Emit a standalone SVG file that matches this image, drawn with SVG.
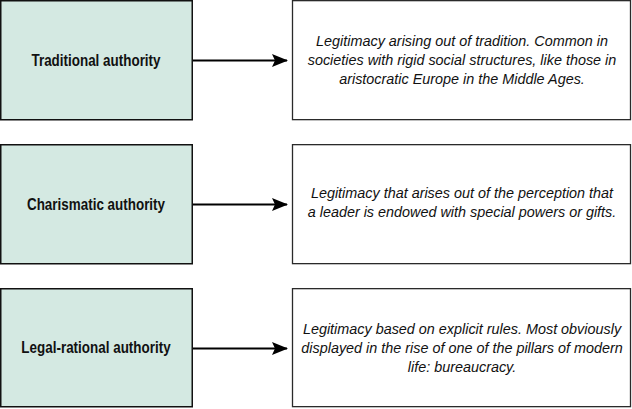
<svg xmlns="http://www.w3.org/2000/svg" width="632" height="409" viewBox="0 0 632 409">
  <style>
    .kind rect { fill: #d4e9e2; stroke: #111; stroke-width: 1.5; }
    .desc rect { fill: #ffffff; stroke: #2a2a2a; stroke-width: 1.3; }
    .kind text { font-family: "Liberation Sans", Arial, sans-serif; font-weight: bold; font-size: 16px; fill: #111; text-anchor: middle; }
    .desc text { font-family: "Liberation Sans", Arial, sans-serif; font-style: italic; font-size: 15.4px; fill: #111; text-anchor: middle; }
    .links line { stroke: #000; stroke-width: 2; }
  </style>
  <defs>
    <marker id="head" viewBox="0 0 16 14" refX="15" refY="7" markerWidth="16" markerHeight="14" markerUnits="userSpaceOnUse" orient="auto">
      <path d="M16,7 L0,0.5 L3,7 L0,13.5 Z" fill="#000"/>
    </marker>
  </defs>
  <rect width="632" height="409" fill="#ffffff"/>

  <!-- authority types (condensed by horizontal scaling) -->
  <g id="traditional" class="kind">
    <rect x="0.75" y="0.75" width="191.5" height="119"/>
    <text transform="translate(96,65.5) scale(0.84,1)">Traditional authority</text>
  </g>
  <g id="charismatic" class="kind">
    <rect x="0.75" y="144.75" width="191.5" height="119"/>
    <text transform="translate(96,209.5) scale(0.84,1)">Charismatic authority</text>
  </g>
  <g id="legal-rational" class="kind">
    <rect x="0.75" y="288.75" width="191.5" height="118"/>
    <text transform="translate(96,353) scale(0.84,1)">Legal-rational authority</text>
  </g>

  <!-- descriptions -->
  <g id="traditional-desc" class="desc">
    <rect x="292.5" y="0.65" width="338" height="119"/>
    <text transform="translate(462,46) scale(0.935,1)">Legitimacy arising out of tradition. Common in</text>
    <text transform="translate(462,65) scale(0.935,1)">societies with rigid social structures, like those in</text>
    <text transform="translate(462,84) scale(0.935,1)">aristocratic Europe in the Middle Ages.</text>
  </g>
  <g id="charismatic-desc" class="desc">
    <rect x="292.5" y="144.65" width="338" height="119"/>
    <text transform="translate(462,198) scale(0.935,1)">Legitimacy that arises out of the perception that</text>
    <text transform="translate(462,217) scale(0.935,1)">a leader is endowed with special powers or gifts.</text>
  </g>
  <g id="legal-rational-desc" class="desc">
    <rect x="292.5" y="288.65" width="338" height="118"/>
    <text transform="translate(462,334) scale(0.935,1)">Legitimacy based on explicit rules. Most obviously</text>
    <text transform="translate(462,353) scale(0.935,1)">displayed in the rise of one of the pillars of modern</text>
    <text transform="translate(462,372) scale(0.935,1)">life: bureaucracy.</text>
  </g>

  <!-- connectors -->
  <g id="connectors" class="links">
    <line x1="193" y1="60.5" x2="287" y2="60.5" marker-end="url(#head)"/>
    <line x1="193" y1="204.5" x2="287" y2="204.5" marker-end="url(#head)"/>
    <line x1="193" y1="348.5" x2="287" y2="348.5" marker-end="url(#head)"/>
  </g>
</svg>
